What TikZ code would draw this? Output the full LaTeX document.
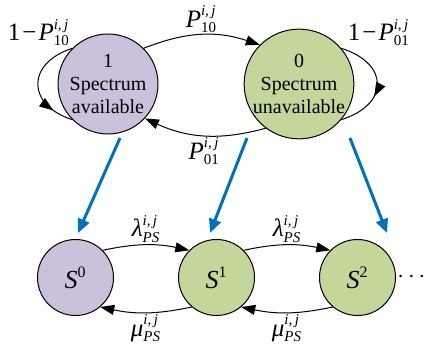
\documentclass[tikz,border=0pt]{standalone}
\usepackage{fontspec}
\setmainfont{Liberation Serif}
\usetikzlibrary{arrows.meta,positioning,calc,decorations.markings}

\definecolor{availfill}{HTML}{CCC1DA}
\definecolor{unavailfill}{HTML}{C3D69B}
\definecolor{mapblue}{HTML}{0070C0}

% 转移概率/速率标签：主符号 + 上标 i,j + 下标
\newcommand{\rate}[2]{$\mbox{\itshape #1}^{\mbox{\fontsize{7.5}{8}\selectfont\itshape i,\,j}}_{\mbox{\fontsize{7.5}{8}\selectfont #2}}$}
% 排队状态 S^k
\newcommand{\sstate}[1]{$\mbox{\itshape S}^{\mbox{\fontsize{8}{9}\selectfont #1}}$}

\begin{document}
\begin{tikzpicture}[
        x=0.5pt, y=0.5pt,
        >={Triangle[length=7pt,width=5pt]},
        % 节点样式定义
        chanstate/.style={circle, draw=black, line width=0.5pt, minimum size=50pt, inner sep=0pt, align=center, font=\fontsize{10}{11.5}\selectfont},
        queuestate/.style={circle, draw=black, line width=0.5pt, minimum size=38pt, inner sep=0pt, font=\fontsize{13}{15}\selectfont},
        avail/.style={fill=availfill},
        unavail/.style={fill=unavailfill},
        % 连线样式定义
        trans/.style={->, line width=0.5pt},
        selfloop/.style={line width=0.5pt, postaction={decorate},
            decoration={markings, mark=at position #1 with {\arrow{Triangle[length=7pt,width=5pt]}}}},
        mapping/.style={-{Triangle[length=7pt,width=6pt]}, line width=1.5pt, draw=mapblue},
        % 标签样式
        ratelabel/.style={font=\fontsize{12.5}{14}\selectfont, inner sep=1pt}
    ]
    \useasboundingbox (0,0) rectangle (426,347);

    % 信道状态
    \node[chanstate, avail] (ch1) at (108,263) {1\\Spectrum\\available};
    \node[chanstate, unavail] (ch0) at (299,263) {0\\Spectrum\\unavailable};

    % 排队状态
    \node[queuestate, avail] (s0) at (75.5,69.5) {\sstate{0}};
    \node[queuestate, unavail, right=32pt of s0] (s1) {\sstate{1}};
    \node[queuestate, unavail, right=32pt of s1] (s2) {\sstate{2}};
    \node[right=0.5pt of s2, inner sep=0pt, font=\fontsize{13}{15}\selectfont] (more) {$\cdots$};

    % 信道状态转移
    \draw[trans] (ch1.45) to[bend left=20] node[ratelabel, above] {\rate{P}{10}} (ch0.135);
    \draw[trans] (ch0.-127) to[bend left=20] node[ratelabel, below] {\rate{P}{01}} (ch1.-43);
    \draw[selfloop=0.8] (ch1.135) .. controls +(-46,-15) and +(-46,15) .. (ch1.225)
        node[pos=0, ratelabel, anchor=south east] {1\kern1pt−\kern1pt\rate{P}{10}};
    \draw[selfloop=0.62] (ch0.40) .. controls +(48,-15) and +(48,15) .. (ch0.-40)
        node[pos=0, ratelabel, anchor=south west, xshift=2pt] {1\kern1pt−\kern1pt\rate{P}{01}};

    % 排队状态转移
    \draw[trans] (s0.45) to[bend left=12] node[ratelabel, above] {\rate{λ}{\itshape PS}} (s1.135);
    \draw[trans] (s1.-130) to[bend left=12] node[ratelabel, below] {\rate{μ}{\itshape PS}} (s0.-50);
    \draw[trans] (s1.45) to[bend left=12] node[ratelabel, above] {\rate{λ}{\itshape PS}} (s2.135);
    \draw[trans] (s2.-130) to[bend left=12] node[ratelabel, below] {\rate{μ}{\itshape PS}} (s1.-50);

    % 信道状态到排队状态的映射
    \coordinate (m1s) at (120,209);
    \coordinate (m1e) at (78,114);
    \coordinate (m2s) at (247,209);
    \coordinate (m2e) at (210,114);
    \coordinate (m3s) at (350,209);
    \coordinate (m3e) at (387,114);
    \draw[mapping] (m1s) -- (m1e);
    \draw[mapping] (m2s) -- (m2e);
    \draw[mapping] (m3s) -- (m3e);

\end{tikzpicture}
\end{document}
